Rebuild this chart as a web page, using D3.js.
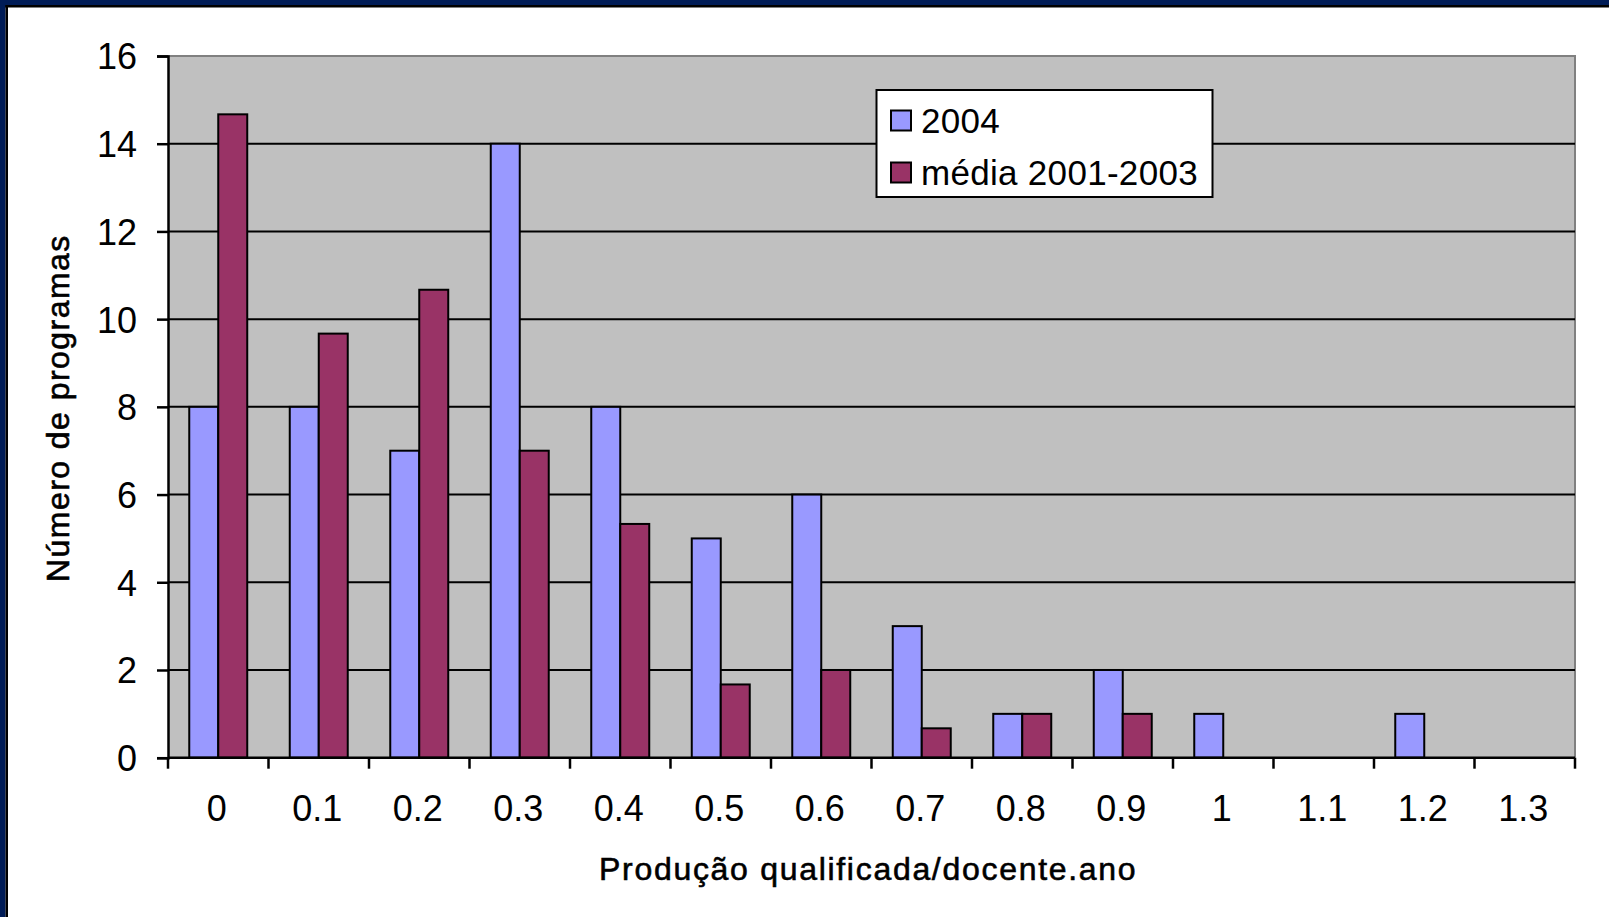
<!DOCTYPE html>
<html>
<head>
<meta charset="utf-8">
<script src="https://cdn.jsdelivr.net/npm/d3@7"></script>
<style>
  html, body { margin: 0; padding: 0; background: #ffffff; }
  svg { display: block; }
  text { font-family: "Liberation Sans", Arial, sans-serif; fill: #000; }
</style>
</head>
<body>
<svg id="chart" width="1609" height="917"></svg>
<script>
// Distribution of programmes by qualified output per lecturer per year
const categories = ["0", "0.1", "0.2", "0.3", "0.4", "0.5", "0.6", "0.7", "0.8", "0.9", "1", "1.1", "1.2", "1.3"];
const seriesNames = ["2004", "média 2001-2003"];
const values2004 = [8, 8, 7, 14, 8, 5, 6, 3, 1, 2, 1, 0, 1, 0];
const valuesMedia = [14.67, 9.67, 10.67, 7, 5.33, 1.67, 2, 0.67, 1, 1, 0, 0, 0, 0];
const yTicks = [0, 2, 4, 6, 8, 10, 12, 14, 16];
const xTitle = "Produção qualificada/docente.ano";
const yTitle = "Número de programas";

const colors = { "2004": "#9999FF", "média 2001-2003": "#993366" };

const svg = d3.select("#chart");
const W = 1609, H = 917;

// slide frame: navy band with a thin black inner line on top and left
svg.append("rect").attr("x", 0).attr("y", 0).attr("width", W).attr("height", H).attr("fill", "#ffffff");
svg.append("rect").attr("x", 0).attr("y", 0).attr("width", W).attr("height", 5).attr("fill", "#001C57");
svg.append("rect").attr("x", 0).attr("y", 5).attr("width", W).attr("height", 2.5).attr("fill", "#000000");
svg.append("rect").attr("x", 0).attr("y", 0).attr("width", 5.5).attr("height", H).attr("fill", "#001C57");
svg.append("rect").attr("x", 5.5).attr("y", 5).attr("width", 2.5).attr("height", H).attr("fill", "#000000");

const plot = { left: 168, right: 1575, top: 56, bottom: 757.7 };

const x0 = d3.scaleBand().domain(categories).range([plot.left, plot.right]).paddingInner(0).paddingOuter(0);
const x1 = d3.scaleBand().domain(seriesNames).range([0, x0.bandwidth()]).paddingInner(0).paddingOuter(0.733);
const y = d3.scaleLinear().domain([0, 16]).range([plot.bottom, plot.top]);

// plot background
svg.append("rect")
  .attr("x", plot.left).attr("y", plot.top)
  .attr("width", plot.right - plot.left).attr("height", plot.bottom - plot.top)
  .attr("fill", "#C0C0C0");

// top and right frame of the plot area
svg.append("path")
  .attr("d", `M${plot.left},${plot.top}H${plot.right}V${plot.bottom}`)
  .attr("fill", "none").attr("stroke", "#808080").attr("stroke-width", 2);

// horizontal gridlines
svg.append("g").selectAll("line")
  .data(yTicks.filter(t => t > 0 && t < 16))
  .join("line")
  .attr("x1", plot.left).attr("x2", plot.right)
  .attr("y1", d => y(d)).attr("y2", d => y(d))
  .attr("stroke", "#000").attr("stroke-width", 2);

// bars
const rows = categories.map((c, i) => ({ cat: c, vals: [values2004[i], valuesMedia[i]] }));
const groups = svg.append("g").selectAll("g")
  .data(rows)
  .join("g")
  .attr("transform", d => `translate(${x0(d.cat)},0)`);

groups.selectAll("rect")
  .data(d => seriesNames.map((s, j) => ({ s, v: d.vals[j] })).filter(e => e.v > 0))
  .join("rect")
  .attr("x", d => x1(d.s))
  .attr("y", d => y(d.v))
  .attr("width", x1.bandwidth())
  .attr("height", d => y(0) - y(d.v))
  .attr("fill", d => colors[d.s])
  .attr("stroke", "#000").attr("stroke-width", 2);

// y axis
const yAxis = d3.axisLeft(y).tickValues(yTicks).tickSize(11).tickPadding(20).tickFormat(d3.format("d"));
const gy = svg.append("g").attr("transform", `translate(${plot.left},0)`).call(yAxis);
gy.select(".domain").attr("stroke", "#000").attr("stroke-width", 2.5);
gy.selectAll(".tick line").attr("stroke", "#000").attr("stroke-width", 2.5);
gy.selectAll(".tick text")
  .attr("font-size", 36).attr("font-family", "Liberation Sans, Arial, sans-serif")
  .attr("fill", "#000").attr("dy", "0.36em");

// x axis: ticks at the category boundaries, labels at band centres
const boundaries = categories.map(c => x0(c)).concat([plot.right]);
const gx = svg.append("g");
gx.append("line")
  .attr("x1", plot.left).attr("x2", plot.right)
  .attr("y1", plot.bottom).attr("y2", plot.bottom)
  .attr("stroke", "#000").attr("stroke-width", 2.5);
gx.selectAll("line.tk")
  .data(boundaries)
  .join("line").attr("class", "tk")
  .attr("x1", d => d).attr("x2", d => d)
  .attr("y1", plot.bottom).attr("y2", plot.bottom + 11)
  .attr("stroke", "#000").attr("stroke-width", 2.5);
gx.selectAll("text")
  .data(categories)
  .join("text")
  .attr("x", d => x0(d) + x0.bandwidth() / 2 - 1.5)
  .attr("y", 821)
  .attr("text-anchor", "middle")
  .attr("font-size", 36)
  .text(d => d);

// axis titles (slightly heavier strokes)
svg.append("text")
  .attr("x", 599).attr("y", 880)
  .attr("text-anchor", "start")
  .attr("font-size", 32)
  .attr("letter-spacing", 1.7)
  .attr("stroke", "#000").attr("stroke-width", 0.6)
  .text(xTitle);

svg.append("text")
  .attr("transform", `translate(69,582) rotate(-90)`)
  .attr("text-anchor", "start")
  .attr("font-size", 32)
  .attr("letter-spacing", 1.45)
  .attr("stroke", "#000").attr("stroke-width", 0.6)
  .text(yTitle);

// legend
const legend = svg.append("g");
legend.append("rect")
  .attr("x", 876.5).attr("y", 90)
  .attr("width", 336).attr("height", 107)
  .attr("fill", "#fff").attr("stroke", "#000").attr("stroke-width", 2);
const legendRows = legend.selectAll("g.item")
  .data(seriesNames)
  .join("g").attr("class", "item")
  .attr("transform", (d, i) => `translate(0,${i * 52})`);
legendRows.append("rect")
  .attr("x", 891).attr("y", 110.5)
  .attr("width", 20).attr("height", 20)
  .attr("fill", d => colors[d])
  .attr("stroke", "#000").attr("stroke-width", 2);
legendRows.append("text")
  .attr("x", 921).attr("y", 132.5)
  .attr("font-size", 35)
  .attr("letter-spacing", 0.3)
  .text(d => d);
</script>
</body>
</html>
